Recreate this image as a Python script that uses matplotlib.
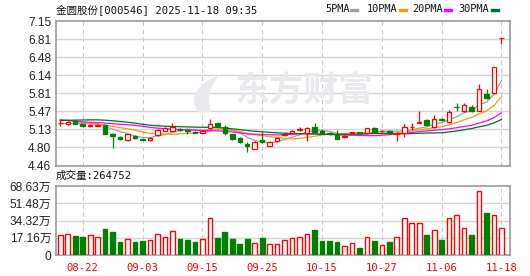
import numpy as np
import pandas as pd
import matplotlib
matplotlib.use('Agg')
import matplotlib.pyplot as plt
from matplotlib.lines import Line2D
from matplotlib.path import Path
from matplotlib.patches import PathPatch

title = '金圆股份[000546] 2025-11-18 09:35'
vol_title = '成交量:264752'

# closes before the visible window, only used to seed the moving averages
hist_close = [5.10, 5.12, 5.14, 5.16, 5.20, 5.24, 5.30, 5.38, 5.45, 5.50,
              5.55, 5.52, 5.46, 5.40, 5.30, 5.25, 5.22, 5.20, 5.18, 5.22,
              5.30, 5.38, 5.40, 5.36, 5.34, 5.28, 5.24, 5.20, 5.22]

opens = [5.25, 5.24, 5.29, 5.23, 5.20, 5.20, 5.21, 5.05, 4.99, 4.94,
         5.01, 4.96, 4.93, 5.03, 5.11, 5.11, 5.14, 5.13, 5.09, 5.07,
         5.15, 5.25, 5.17, 5.04, 4.98, 4.86, 4.77, 4.93, 4.83, 4.91,
         5.03, 5.07, 5.13, 5.06, 5.17, 5.11, 5.07, 5.02, 4.99, 5.07,
         5.08, 5.06, 5.15, 5.10, 5.11, 5.05, 5.06, 5.17, 5.26, 5.31,
         5.17, 5.32, 5.27, 5.55, 5.48, 5.55, 5.48, 5.79, 5.81, 6.83]
closes = [5.26, 5.27, 5.24, 5.20, 5.21, 5.22, 5.05, 5.01, 4.96, 5.04,
          4.97, 4.94, 4.98, 5.13, 5.15, 5.18, 5.12, 5.11, 5.07, 5.10,
          5.24, 5.19, 5.07, 4.95, 4.89, 4.83, 4.90, 4.90, 4.90, 4.97,
          5.05, 5.11, 5.14, 5.15, 5.09, 5.06, 5.04, 4.96, 5.00, 5.08,
          5.06, 5.15, 5.09, 5.11, 5.09, 5.06, 5.18, 5.18, 5.27, 5.21,
          5.32, 5.30, 5.46, 5.54, 5.59, 5.48, 5.88, 5.71, 6.29, 6.83]
highs = [5.30, 5.29, 5.30, 5.24, 5.23, 5.23, 5.23, 5.06, 5.01, 5.05,
         5.02, 4.97, 4.99, 5.14, 5.17, 5.26, 5.15, 5.14, 5.10, 5.11,
         5.32, 5.26, 5.21, 5.05, 4.99, 4.89, 4.91, 5.09, 4.91, 4.98,
         5.08, 5.12, 5.18, 5.17, 5.26, 5.14, 5.08, 5.12, 5.02, 5.09,
         5.09, 5.16, 5.17, 5.13, 5.13, 5.09, 5.23, 5.26, 5.48, 5.32,
         5.40, 5.34, 5.50, 5.62, 5.62, 5.58, 5.97, 5.88, 6.29, 6.83]
lows = [5.20, 5.22, 5.23, 5.17, 5.18, 5.19, 5.04, 4.78, 4.94, 4.91,
        4.95, 4.93, 4.92, 5.01, 5.10, 5.10, 5.11, 5.05, 5.06, 5.06,
        5.14, 5.18, 5.02, 4.94, 4.87, 4.71, 4.76, 4.87, 4.82, 4.90,
        5.00, 5.06, 5.10, 4.91, 5.08, 5.05, 5.03, 4.95, 4.97, 5.06,
        5.05, 5.05, 5.08, 5.09, 5.08, 4.91, 4.99, 5.12, 5.25, 5.20,
        5.16, 5.28, 5.26, 5.47, 5.46, 5.46, 5.47, 5.69, 5.80, 6.72]

# volume in 万 (10k)
vols = [20, 21, 19, 18, 20, 18, 26, 23, 13, 16,
        13, 14, 15, 21, 18, 24, 16, 15, 13, 16,
        37, 17, 23, 16, 11, 16, 12, 17, 11, 11,
        15, 17, 18, 21, 25, 14, 14, 13, 9, 12,
        7, 18, 14, 10, 13, 18, 37, 32, 32, 20,
        25, 15, 37, 40, 27, 20, 64, 42, 40, 26.4752]
vol_dir = 'RRGGRRGGGR' + 'GGRRRRGGGR' + 'RGGGGGRGRR' + 'RRRRGGGGRR' + 'GRGRGRRRRG' + 'RGRRRGRGRR'

date_pos = [3, 11, 19, 27, 35, 43, 51, 59]
date_labels = ['08-22', '09-03', '09-15', '09-25', '10-15', '10-27', '11-06', '11-18']
price_min, price_max = 4.46, 7.15
price_labels = ['4.46', '4.80', '5.13', '5.47', '5.81', '6.14', '6.48', '6.81', '7.15']
vol_max = 68.63
vol_labels = ['0', '17.16万', '34.32万', '51.48万', '68.63万']

ma_periods = [5, 10, 20, 30]
ma_names = ['5PMA', '10PMA', '20PMA', '30PMA']
ma_colors = ['#a0a0a0', '#f0a000', '#ff00ff', '#006e2e']

RED = '#ff0000'
GREEN = '#008000'
GRID = '#d4d4d4'
FRAME = '#999999'
WM = '#e9e9ed'
mono = ['DejaVu Sans Mono', 'Noto Sans CJK SC']
num = ['Liberation Sans', 'Noto Sans CJK SC']

n = len(closes)
x = np.arange(n)
allc = pd.Series(hist_close + closes)
mas = [allc.rolling(p).mean().values[len(hist_close):] for p in ma_periods]

W, H = 530, 276
fig = plt.figure(figsize=(W / 100, H / 100), dpi=100)
ax1 = fig.add_axes([55.5 / W, 1 - 165.5 / H, 454 / W, 144.5 / H])
ax2 = fig.add_axes([55.5 / W, 1 - 255 / H, 454 / W, 69 / H])

xl = (-0.64, 60.07)
for ax in (ax1, ax2):
    ax.set_xlim(*xl)
    for s in ax.spines.values():
        s.set_color(FRAME)
        s.set_linewidth(1.2)
    ax.tick_params(length=0, pad=3)
    ax.set_xticks([])
    for p in date_pos:
        ax.axvline(p, color='#c8c8c8', lw=0.8, ls=(0, (4, 3)), zorder=0)

# price panel
pt = np.linspace(price_min, price_max, len(price_labels))
ax1.set_ylim(price_min, price_max)
ax1.set_yticks(pt)
ax1.set_yticklabels(price_labels, family=num, fontsize=8.6, color='#222222')
for v in pt[1:-1]:
    ax1.axhline(v, color=GRID, lw=1, zorder=0)

# watermark: logo swoosh + text
def fx(px):
    return (px - 55.5) / 454

def fy(py):
    return (165.5 - py) / 144.5

verts = [(fx(198), fy(112)), (fx(184), fy(90)), (fx(219), fy(75)),
         (fx(205), fy(92)), (fx(211), fy(112)), (fx(198), fy(112))]
codes = [Path.MOVETO, Path.CURVE3, Path.CURVE3, Path.CURVE3, Path.CURVE3, Path.CLOSEPOLY]
ax1.add_patch(PathPatch(Path(verts, codes), transform=ax1.transAxes, facecolor=WM,
                        edgecolor='none', zorder=0))
ax1.text(0.548, 0.52, '东方财富', transform=ax1.transAxes, ha='center', va='center',
         fontsize=25, fontweight='bold', family='Noto Sans CJK SC', color=WM, zorder=0)

for ma, c in zip(mas, ma_colors):
    ax1.plot(x, ma, color=c, lw=0.9, zorder=2)

o = np.array(opens)
c = np.array(closes)
up = c >= o
ax1.vlines(x[up], np.array(lows)[up], np.array(highs)[up], color=RED, lw=0.9, zorder=3)
ax1.vlines(x[~up], np.array(lows)[~up], np.array(highs)[~up], color=GREEN, lw=0.9, zorder=3)
body = np.abs(c - o)
bottom = np.minimum(c, o)
ax1.bar(x[up], body[up], 0.6, bottom[up], facecolor='white', edgecolor=RED, lw=0.9, zorder=4)
ax1.bar(x[~up], body[~up], 0.6, bottom[~up], facecolor=GREEN, edgecolor=GREEN, lw=0.9, zorder=4)

# volume panel
vt = np.linspace(0, vol_max, len(vol_labels))
ax2.set_ylim(0, vol_max)
ax2.set_yticks(vt)
ax2.set_yticklabels(vol_labels, family=num, fontsize=8.6, color='#222222')
for v in vt[1:-1]:
    ax2.axhline(v, color=GRID, lw=1, zorder=0)
vup = np.array([d == 'R' for d in vol_dir])
v = np.array(vols)
ax2.bar(x[vup], v[vup], 0.62, facecolor='white', edgecolor=RED, lw=1, zorder=3)
ax2.bar(x[~vup], v[~vup], 0.62, facecolor=GREEN, edgecolor=GREEN, lw=1, zorder=3)

for p, lab in zip(date_pos, date_labels):
    ax2.text(p, -0.19, lab, transform=ax2.get_xaxis_transform(), ha='center', va='center',
             family=mono, fontsize=7.6, color=RED)

# header texts
fig.text(56 / W, 1 - 10 / H, title, family=mono, fontsize=7.6, va='center', ha='left', color='#111111')
fig.text(56 / W, 1 - 176 / H, vol_title, family=mono, fontsize=7.6, va='center', ha='left', color='#111111')

leg_text_x = [325, 367, 412, 458]
leg_mark_x = [351, 400, 445, 492]
for name, col, tx, mx in zip(ma_names, ma_colors, leg_text_x, leg_mark_x):
    fig.text(tx / W, 1 - 9.5 / H, name, family=mono, fontsize=7.4, va='center', ha='left', color='#111111')
    fig.add_artist(Line2D([mx / W, (mx + 6) / W], [1 - 9.5 / H, 1 - 9.5 / H], color=col, lw=2.4,
                          transform=fig.transFigure))

fig.savefig('out.png', dpi=100)
